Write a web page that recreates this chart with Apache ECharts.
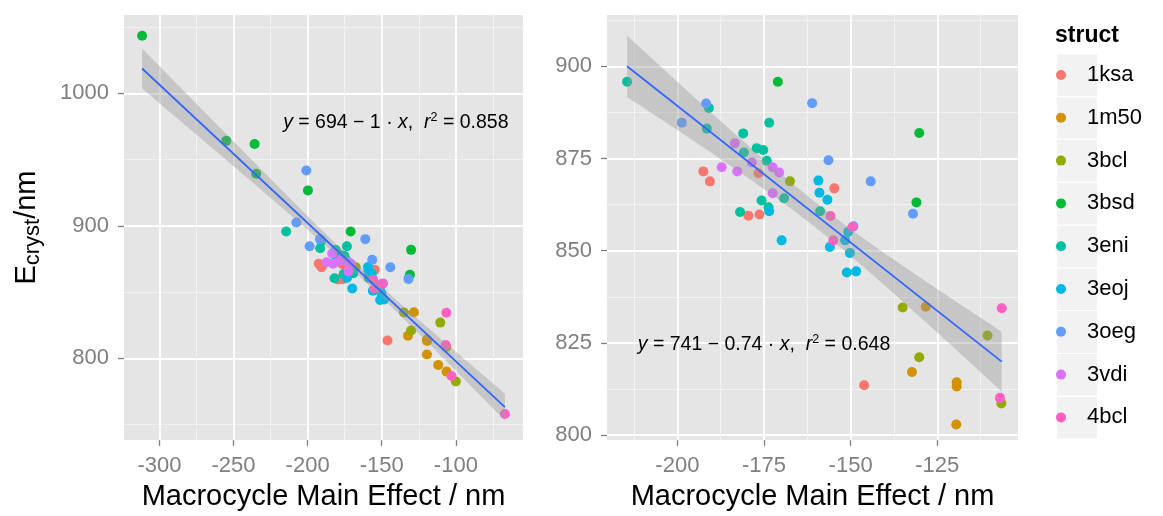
<!DOCTYPE html>
<html><head><meta charset="utf-8">
<script src="https://cdn.jsdelivr.net/npm/echarts@6/dist/echarts.min.js"></script>
<style>html,body{margin:0;padding:0;background:#fff}#c{width:1163px;height:516px}</style>
</head><body><div id="c"></div>
<script>
// ---- data ----
const structs = ['1ksa','1m50','3bcl','3bsd','3eni','3eoj','3oeg','3vdi','4bcl'];
const palette = ['#F8766D','#D39200','#93AA00','#00BA38','#00C19F','#00B9E3','#619CFF','#DB72FB','#FF61C3'];

// points with 800 <= E <= 900 (shown in both panels)
const pts1ksa = [[-192.5,871.5],[-190.6,868.8],[-176.6,871.0],[-154.7,866.9],[-179.5,859.5],[-176.3,859.8],[-146.1,813.5]];
const pts1m50 = [[-128.3,834.8],[-132.3,817.1],[-119.4,814.3],[-119.4,813.2],[-119.5,802.9]];
const pts3bcl = [[-167.5,868.8],[-135.0,834.6],[-110.5,827.0],[-130.2,821.1],[-106.5,808.6]];
const pts3bsd = [[-171.0,895.8],[-130.2,881.9],[-131.0,863.1]];
const pts3eni = [[-214.5,895.8],[-190.9,888.7],[-191.5,883.1],[-173.5,884.7],[-181.0,881.8],[-177.1,877.8],[-175.2,877.3],[-180.8,876.6],[-174.2,874.4],[-169.2,864.2],[-175.7,863.6],[-181.9,860.5],[-173.7,861.8],[-158.8,860.7]];
const pts3eoj = [[-159.3,869.0],[-159.0,865.7],[-156.7,863.8],[-173.5,860.7],[-169.9,852.8],[-150.7,855.1],[-151.6,852.8],[-156.0,851.0],[-150.2,849.4],[-151.1,844.1],[-148.4,844.4]];
const pts3oeg = [[-161.1,890.0],[-191.7,889.9],[-198.7,884.7],[-156.4,874.5],[-144.2,868.8],[-132.0,860.0],[-149.2,856.6]];
const pts3vdi = [[-183.4,879.1],[-178.5,873.9],[-187.2,872.6],[-182.7,871.5],[-172.5,872.6],[-170.6,871.2],[-172.5,865.6]];
const pts4bcl = [[-155.8,859.4],[-149.5,856.4],[-155.0,852.8],[-106.4,834.4],[-106.9,810.1]];

// extra points only in the left panel
const extra1m50 = [[-111.9,795.0],[-106.3,790.0]];
const extra3bcl = [[-100.0,782.5]];
const extra3bsd = [[-311.7,1043.5],[-254.9,964.2],[-235.8,961.8],[-234.7,939.3],[-199.8,926.8]];
const extra3oeg = [[-200.9,941.8],[-207.6,902.5]];
const extra4bcl = [[-102.9,786.7],[-66.9,758.0]];

const corePts = [pts1ksa,pts1m50,pts3bcl,pts3bsd,pts3eni,pts3eoj,pts3oeg,pts3vdi,pts4bcl];
const extraPts = [[],extra1m50,extra3bcl,extra3bsd,[],[],extra3oeg,[],extra4bcl];

// tick labels
const xTicksLeft = [-300,-250,-200,-150,-100];
const xMinorLeft = [-275,-225,-175,-125,-75];
const yTicksLeft = [800,900,1000];
const yMinorLeft = [750,850,950,1050];
const xTicksRight = [-200,-175,-150,-125];
const xMinorRight = [-212.5,-187.5,-162.5,-137.5,-112.5];
const yTicksRight = [800,825,850,875,900];
const yMinorRight = [812.5,837.5,862.5,887.5,912.5];

const eqLeft = '{i|y} = 694 \u2212 1 \u00b7 {i|x},  {i|r}{sup|2} = 0.858';
const eqRight = '{i|y} = 741 \u2212 0.74 \u00b7 {i|x},  {i|r}{sup|2} = 0.648';
const eqLeftPos = [-140.5, 978];
const eqRightPos = [-175, 824.5];

const tCrit = 1.995;

// ---- helpers ----
function fit(points) {
  const n = points.length;
  let sx = 0, sy = 0;
  points.forEach(p => { sx += p[0]; sy += p[1]; });
  const mx = sx / n, my = sy / n;
  let sxx = 0, sxy = 0;
  points.forEach(p => { sxx += (p[0]-mx)*(p[0]-mx); sxy += (p[0]-mx)*(p[1]-my); });
  const b = sxy / sxx, a = my - b * mx;
  let sse = 0;
  points.forEach(p => { const r = p[1] - (a + b*p[0]); sse += r*r; });
  const s = Math.sqrt(sse / (n - 2));
  const xs = points.map(p => p[0]);
  const x0 = Math.min(...xs), x1 = Math.max(...xs);
  const band = [];
  const steps = 80;
  for (let i = 0; i < steps; i++) {
    const x = x0 + (x1 - x0) * i / (steps - 1);
    const yh = a + b * x;
    const se = s * Math.sqrt(1/n + (x-mx)*(x-mx)/sxx);
    band.push([x, yh - tCrit*se, yh + tCrit*se]);
  }
  return { line: [[x0, a + b*x0], [x1, a + b*x1]], band };
}

const FONT = 'Liberation Sans, Arial, Helvetica, sans-serif';
const GREY = '#7F7F7F';

function majorAxis(grid, min, max, ticks, isX, name, nameGap) {
  const ax = {
    type: 'value', gridIndex: grid, min: min, max: max,
    position: isX ? 'bottom' : 'left',
    axisLine: { show: false },
    axisTick: { show: true, length: 6, lineStyle: { color: GREY, width: 1.3 }, customValues: ticks },
    axisLabel: { customValues: ticks, color: GREY, fontSize: 22, fontFamily: FONT, margin: isX ? 15 : 15, formatter: v => String(v) },
    splitLine: { show: true, lineStyle: { color: '#FFFFFF', width: 1.8 } },
    minorTick: { show: false }, minorSplitLine: { show: false }
  };
  if (name) {
    ax.name = name; ax.nameLocation = 'middle'; ax.nameGap = nameGap;
    if (isX) {
      ax.nameTextStyle = { color: '#000', fontSize: 29, fontFamily: FONT };
    } else {
      ax.nameRotate = 90;
      ax.nameTextStyle = { color: '#000', fontFamily: FONT, rich: {
        b: { fontSize: 29, color: '#000', fontFamily: FONT },
        s: { fontSize: 22, color: '#000', fontFamily: FONT, padding: [13, 0, 0, 0] }
      } };
    }
  }
  return ax;
}
function minorAxis(grid, min, max, ticks, isX) {
  return {
    type: 'value', gridIndex: grid, min: min, max: max,
    position: isX ? 'top' : 'right',
    axisLine: { show: false },
    axisTick: { show: false, customValues: ticks },
    axisLabel: { show: false },
    splitLine: { show: true, lineStyle: { color: '#F2F2F2', width: 1 } }
  };
}

const L = { xmin: -323.9, xmax: -54.7, ymin: 738.3, ymax: 1059.2 };
const R = { xmin: -220.3, xmax: -101.7, ymin: 798.65, ymax: 913.9 };

const xAxes = [
  majorAxis(0, L.xmin, L.xmax, xTicksLeft, true, 'Macrocycle Main Effect / nm', 41),
  minorAxis(0, L.xmin, L.xmax, xMinorLeft, true),
  majorAxis(1, R.xmin, R.xmax, xTicksRight, true, 'Macrocycle Main Effect / nm', 41),
  minorAxis(1, R.xmin, R.xmax, xMinorRight, true)
];
const yAxes = [
  majorAxis(0, L.ymin, L.ymax, yTicksLeft, false, '{b|E}{s|cryst}{b|/nm}', 80),
  minorAxis(0, L.ymin, L.ymax, yMinorLeft, false),
  majorAxis(1, R.ymin, R.ymax, yTicksRight, false, null, 0),
  minorAxis(1, R.ymin, R.ymax, yMinorRight, false)
];

const series = [];
const leftAll = [], rightAll = [];
structs.forEach((s, i) => {
  const leftData = corePts[i].concat(extraPts[i]);
  const rightData = corePts[i];
  leftData.forEach(p => leftAll.push(p));
  rightData.forEach(p => rightAll.push(p));
  series.push({ type: 'scatter', name: s, xAxisIndex: 0, yAxisIndex: 0, data: leftData,
    symbol: 'circle', symbolSize: 10, itemStyle: { color: palette[i], opacity: 1 }, z: 2, silent: true });
  series.push({ type: 'scatter', name: s, xAxisIndex: 2, yAxisIndex: 2, data: rightData,
    symbol: 'circle', symbolSize: 10, itemStyle: { color: palette[i], opacity: 1 }, z: 2, silent: true });
});

function smoothSeries(points, xi, yi) {
  const f = fit(points);
  const band = f.band;
  return [
    { type: 'custom', xAxisIndex: xi, yAxisIndex: yi, z: 3, silent: true, data: band,
      encode: { x: 0, y: [1, 2] }, clip: true,
      renderItem: (params, api) => {
        if (params.dataIndex !== 0) return null;
        const pts = [];
        for (let k = 0; k < band.length; k++) pts.push(api.coord([band[k][0], band[k][2]]));
        for (let k = band.length - 1; k >= 0; k--) pts.push(api.coord([band[k][0], band[k][1]]));
        return { type: 'polygon', shape: { points: pts }, style: { fill: 'rgba(153,153,153,0.4)' } };
      } },
    { type: 'line', xAxisIndex: xi, yAxisIndex: yi, z: 4, silent: true, data: f.line,
      symbol: 'none', lineStyle: { color: '#3366FF', width: 1.8 }, animation: false }
  ];
}
smoothSeries(leftAll, 0, 0).forEach(s => series.push(s));
smoothSeries(rightAll, 2, 2).forEach(s => series.push(s));

const keyRects = structs.map((s, i) => ({
  type: 'rect', shape: { x: 1057, y: 54.5 + i * 42.8, width: 40, height: 41.5 },
  style: { fill: '#F2F2F2' }, z: 0, silent: true
}));

const chart = echarts.init(document.getElementById('c'), null, { renderer: 'canvas' });
chart.setOption({
  animation: false,
  backgroundColor: '#FFFFFF',
  textStyle: { fontFamily: FONT },
  title: { text: 'struct', left: 1055, top: 24, textStyle: { fontSize: 23, fontWeight: 'bold', color: '#000', fontFamily: FONT }, padding: 0 },
  grid: [
    { left: 124, top: 15, width: 399, height: 429, show: true, backgroundColor: '#E5E5E5', borderWidth: 0 },
    { left: 607, top: 15, width: 411, height: 429, show: true, backgroundColor: '#E5E5E5', borderWidth: 0 }
  ],
  xAxis: xAxes,
  yAxis: yAxes,
  legend: {
    orient: 'vertical', left: 1056, top: 54, padding: 0,
    itemWidth: 42, itemHeight: 10, itemGap: 0.8, icon: 'circle', symbolKeepAspect: true,
    selectedMode: false, data: structs,
    textStyle: { fontSize: 22, lineHeight: 42, color: '#000', fontFamily: FONT }
  },
  tooltip: { show: false },
  graphic: keyRects,
  series: series
});

const pl = chart.convertToPixel({ gridIndex: 0 }, eqLeftPos);
const pr = chart.convertToPixel({ gridIndex: 1 }, eqRightPos);
const eqRich = {
  i: { fontStyle: 'italic', fontSize: 19.5, fill: '#000', fontFamily: FONT },
  sup: { fontSize: 12.5, fill: '#000', fontFamily: FONT, padding: [0, 0, 10, 0] }
};
chart.setOption({
  graphic: keyRects.concat([
    { type: 'text', x: pl[0], y: pl[1], z: 10, silent: true,
      style: { text: eqLeft, rich: eqRich, fontSize: 19.5, fill: '#000', fontFamily: FONT, align: 'center', verticalAlign: 'middle' } },
    { type: 'text', x: pr[0], y: pr[1], z: 10, silent: true,
      style: { text: eqRight, rich: eqRich, fontSize: 19.5, fill: '#000', fontFamily: FONT, align: 'center', verticalAlign: 'middle' } }
  ])
});
</script></body></html>
